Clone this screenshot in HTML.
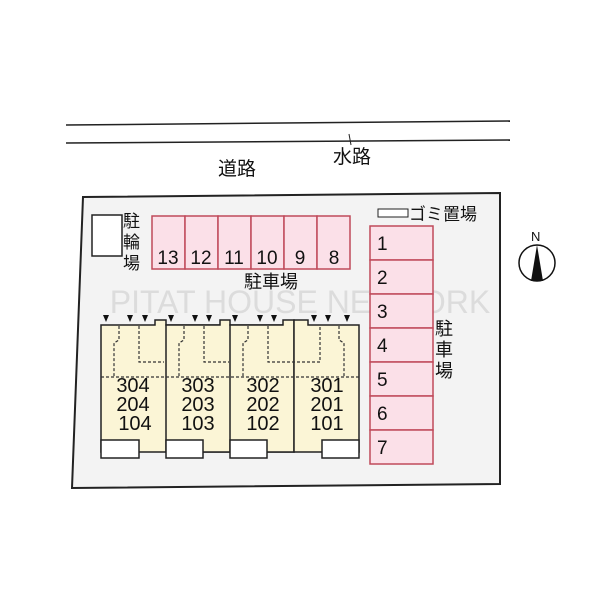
<!DOCTYPE html><html><head><meta charset="utf-8"><style>body{margin:0;background:#fff}svg{display:block}text{font-family:"Liberation Sans","Noto Sans CJK JP",sans-serif;fill:#111}</style></head><body>
<svg width="600" height="600" viewBox="0 0 600 600">
<line x1="66" y1="125" x2="510" y2="121" stroke="#222" stroke-width="1.5"/>
<line x1="66" y1="143" x2="510" y2="140" stroke="#222" stroke-width="1.5"/>
<line x1="349" y1="134" x2="351" y2="145" stroke="#222"/>
<text x="218" y="175" font-size="19">道路</text>
<text x="333" y="163" font-size="19">水路</text>
<polygon points="83,197 500,193 500,484 72,488" fill="#f3f3f3" stroke="#222" stroke-width="2"/>
<rect x="92" y="215" width="30" height="41" fill="#fff" stroke="#222" stroke-width="1.5"/>
<text x="123" y="227" font-size="17">駐</text><text x="123" y="248" font-size="17">輪</text><text x="123" y="269" font-size="17">場</text>
<g fill="#fbe0e8" stroke="#c04a5a" stroke-width="1.5">
<rect x="152" y="216" width="33" height="53"/><rect x="185" y="216" width="33" height="53"/><rect x="218" y="216" width="33" height="53"/><rect x="251" y="216" width="33" height="53"/><rect x="284" y="216" width="33" height="53"/><rect x="317" y="216" width="33" height="53"/>
</g>
<g font-size="19" text-anchor="middle"><text x="168" y="264">13</text><text x="201" y="264">12</text><text x="234" y="264">11</text><text x="267" y="264">10</text><text x="300" y="264">9</text><text x="334" y="264">8</text></g>
<text x="244" y="288" font-size="18">駐車場</text>
<text x="300" y="313" font-size="32" text-anchor="middle" style="fill:#dcdcdc">PITAT HOUSE NETWORK</text>
<rect x="378" y="209" width="30" height="8" fill="#fff" stroke="#222"/>
<text x="409" y="220" font-size="17">ゴミ置場</text>
<g fill="#fbe0e8" stroke="#c04a5a" stroke-width="1.5">
<rect x="370" y="226" width="63" height="34"/><rect x="370" y="260" width="63" height="34"/><rect x="370" y="294" width="63" height="34"/><rect x="370" y="328" width="63" height="34"/><rect x="370" y="362" width="63" height="34"/><rect x="370" y="396" width="63" height="34"/><rect x="370" y="430" width="63" height="34"/>
</g>
<g font-size="19"><text x="377" y="250">1</text><text x="377" y="284">2</text><text x="377" y="318">3</text><text x="377" y="352">4</text><text x="377" y="386">5</text><text x="377" y="420">6</text><text x="377" y="454">7</text></g>
<text x="435" y="335" font-size="18">駐</text><text x="435" y="356" font-size="18">車</text><text x="435" y="377" font-size="18">場</text>
<circle cx="537" cy="263" r="18" fill="#fff" stroke="#111" stroke-width="1.5"/>
<polygon points="537,245 531,281 543,281" fill="#111"/>
<text x="531" y="241" font-size="13">N</text>
<g stroke="#222" stroke-width="1.5" fill="#fbf5d6">
<polygon points="101,325 155,325 155,320 166,320 166,325 230,325 230,452 101,452"/>
<polygon points="166,325 220,325 220,320 230,320 230,325 294,325 294,452 166,452"/>
<polygon points="230,325 283,325 283,320 294,320 294,452 230,452"/>
<polygon points="294,320 308,320 308,325 359,325 359,452 294,452"/>
</g>
<g stroke="#333" stroke-width="1.2" fill="none" stroke-dasharray="3,2">
<line x1="101" y1="377" x2="359" y2="377"/>
<polyline points="119,326 119,340 114,343 114,377"/><polyline points="139,326 139,362 164,362"/>
<polyline points="184,326 184,340 179,343 179,377"/><polyline points="204,326 204,362 229,362"/>
<polyline points="248,326 248,340 243,343 243,377"/><polyline points="268,326 268,362 320,362 320,326"/>
<polyline points="339,326 339,340 344,343 344,377"/>
</g>
<g fill="#fff" stroke="#222" stroke-width="1.5">
<rect x="101" y="440" width="38" height="18"/><rect x="166" y="440" width="37" height="18"/><rect x="230" y="440" width="37" height="18"/><rect x="322" y="440" width="37" height="18"/>
</g>
<g fill="#111">
<polygon points="103,315 109,315 106,322"/><polygon points="127,315 133,315 130,322"/><polygon points="142,315 148,315 145,322"/>
<polygon points="168,315 174,315 171,322"/><polygon points="192,315 198,315 195,322"/><polygon points="206,315 212,315 209,322"/>
<polygon points="232,315 238,315 235,322"/><polygon points="257,315 263,315 260,322"/><polygon points="271,315 277,315 274,322"/>
<polygon points="311,315 317,315 314,322"/><polygon points="325,315 331,315 328,322"/><polygon points="344,315 350,315 347,322"/>
</g>
<g font-size="20" text-anchor="middle">
<text x="133" y="392">304</text><text x="133" y="411">204</text><text x="135" y="430">104</text>
<text x="198" y="392">303</text><text x="198" y="411">203</text><text x="198" y="430">103</text>
<text x="263" y="392">302</text><text x="263" y="411">202</text><text x="263" y="430">102</text>
<text x="327" y="392">301</text><text x="327" y="411">201</text><text x="327" y="430">101</text>
</g>
</svg></body></html>
